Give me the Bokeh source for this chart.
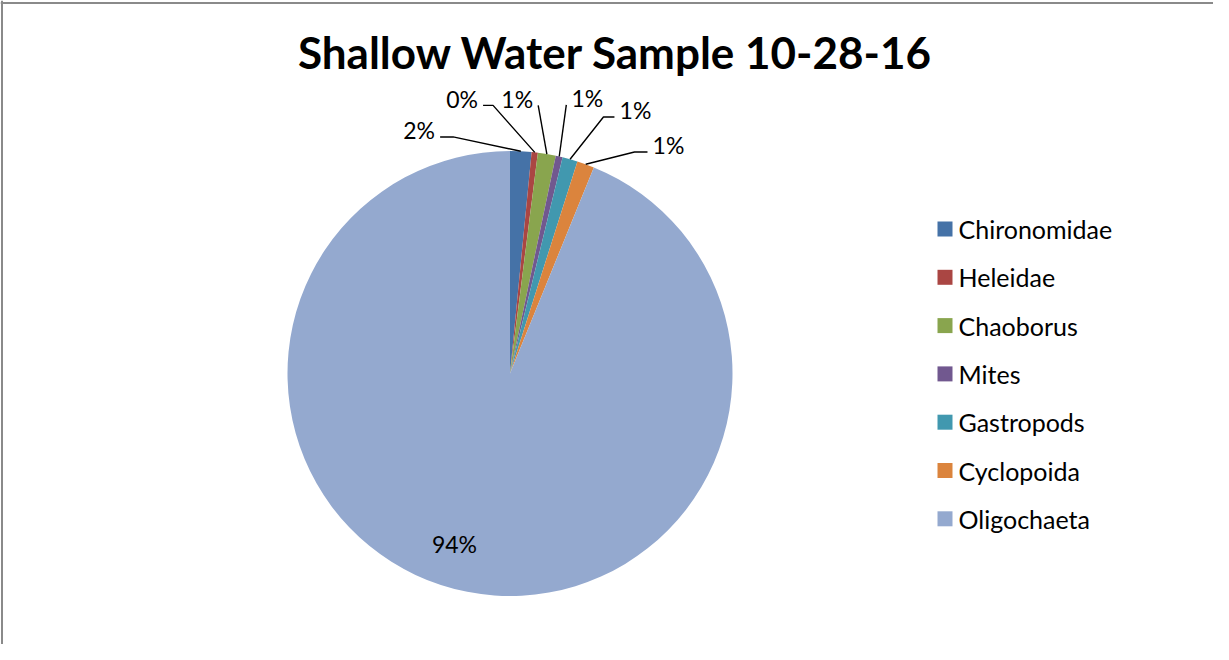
import math
from bokeh.plotting import figure
from bokeh.models import Range1d, Span, ColumnDataSource
from bokeh.core.properties import value
from bokeh.embed import file_html
from bokeh.resources import INLINE

# ---- data ----
categories = ["Chironomidae", "Heleidae", "Chaoborus", "Mites", "Gastropods", "Cyclopoida", "Oligochaeta"]
shares = [1.55, 0.45, 1.3, 0.5, 1.1, 1.25, 93.85]
pct_labels = ["2%", "0%", "1%", "1%", "1%", "1%", "94%"]
title_text = "Shallow Water Sample 10-28-16"

# ---- style / layout ----
colors = ["#4572A7", "#AA4643", "#89A54E", "#71588F", "#4198AF", "#DB843D", "#94A9CF"]
FONT = "Lato"
W, H = 1213, 644
CX, CY, R = 509.5, 373.0, 222.5          # screen px
# label placement: (angle from 12 o'clock, clockwise, deg ; distance from centre px)
label_polar = [(-20.5, 259.5), (-9.9, 278.8), (1.5, 274.8), (15.7, 285.7),
               (25.5, 291.4), (34.8, 277.7), (198.0, 179.8)]
knee_len = [13, 10, 0, 0, 11, 13, None]
half_w = 15.5


def Y(sy):
    return H - sy


p = figure(width=W, height=H, x_range=Range1d(0, W), y_range=Range1d(0, H),
           output_backend="svg", toolbar_location=None, min_border=0,
           x_axis_location=None, y_axis_location=None)
p.grid.visible = False
p.outline_line_color = None
p.background_fill_color = "white"
p.border_fill_color = "white"

# pie
total = sum(shares)
starts, ends, mids = [], [], []
cum = 0.0
for v in shares:
    a0 = cum / total
    cum += v
    a1 = cum / total
    starts.append(math.pi / 2 - 2 * math.pi * a0)
    ends.append(math.pi / 2 - 2 * math.pi * a1)
    mids.append(math.pi * (a0 + a1))   # angle from top, clockwise (radians)

src = ColumnDataSource(dict(start=starts, end=ends, color=colors, cat=categories))
p.wedge(x=CX, y=Y(CY), radius=R, start_angle="start", end_angle="end", direction="clock",
        fill_color="color", line_color=None, source=src)

# data labels + leader lines
lx, ly = [], []
for i, txt in enumerate(pct_labels):
    ang, dist = label_polar[i]
    a = math.radians(ang)
    tx = CX + dist * math.sin(a)
    ty = CY - dist * math.cos(a)
    lx.append(tx)
    ly.append(Y(ty))
    if knee_len[i] is not None:
        ex = CX + R * math.sin(mids[i])
        ey = CY - R * math.cos(mids[i])
        side = 1 if ex > tx else -1
        ax = tx + side * (half_w + 5.5)
        ay = ty + 6.5
        kx = ax + side * knee_len[i]
        p.line(x=[ax, kx, ex], y=[Y(ay), Y(ay), Y(ey)], line_color="black", line_width=1.4)

p.text(x=lx, y=ly, text=pct_labels, text_font=value(FONT), text_font_size="23px",
       text_align="center", text_baseline="middle", text_color="black")

# title
p.text(x=[615], y=[Y(51)], text=[title_text], text_font=value(FONT), text_font_size="44px",
       text_font_style="bold", text_align="center", text_baseline="middle", text_color="black")

# legend (manual)
leg_y = [Y(228.5 + 48.3 * i) for i in range(len(categories))]
p.rect(x=[944.5] * len(categories), y=leg_y, width=15, height=15, fill_color=colors, line_color=None)
p.text(x=[958] * len(categories), y=leg_y, text=categories, text_font=value(FONT),
       text_font_size="25px", text_align="left", text_baseline="middle", text_color="black")

# chart-area border (left and top visible)
p.add_layout(Span(location=1.5, dimension="height", line_color="#8a8a8a", line_width=2))
p.add_layout(Span(location=Y(2.5), dimension="width", line_color="#8a8a8a", line_width=2))

open("out.html", "w").write(file_html(p, INLINE))
